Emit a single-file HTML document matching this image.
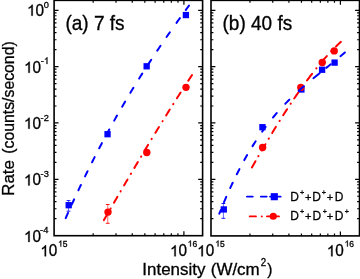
<!DOCTYPE html>
<html><head><meta charset="utf-8"><style>
html,body{margin:0;padding:0;background:#fff;}
svg{display:block;will-change:transform;}
text{font-family:"Liberation Sans",sans-serif;fill:#000;stroke:#000;stroke-width:0.3px;}
</style></head><body>
<svg width="360" height="279" viewBox="0 0 360 279">
<rect width="360" height="279" fill="#fff"/>
<rect x="54.1" y="0.35" width="148.50" height="235.35" fill="none" stroke="#000" stroke-width="1.6"/>
<path d="M54.10 10.30h4.4 M202.60 10.30h-4.4 M54.10 66.63h4.4 M202.60 66.63h-4.4 M54.10 49.67h2.4 M202.60 49.67h-2.4 M54.10 39.75h2.4 M202.60 39.75h-2.4 M54.10 32.72h2.4 M202.60 32.72h-2.4 M54.10 27.26h2.4 M202.60 27.26h-2.4 M54.10 22.80h2.4 M202.60 22.80h-2.4 M54.10 19.03h2.4 M202.60 19.03h-2.4 M54.10 15.76h2.4 M202.60 15.76h-2.4 M54.10 12.88h2.4 M202.60 12.88h-2.4 M54.10 122.96h4.4 M202.60 122.96h-4.4 M54.10 106.00h2.4 M202.60 106.00h-2.4 M54.10 96.08h2.4 M202.60 96.08h-2.4 M54.10 89.05h2.4 M202.60 89.05h-2.4 M54.10 83.59h2.4 M202.60 83.59h-2.4 M54.10 79.13h2.4 M202.60 79.13h-2.4 M54.10 75.36h2.4 M202.60 75.36h-2.4 M54.10 72.09h2.4 M202.60 72.09h-2.4 M54.10 69.21h2.4 M202.60 69.21h-2.4 M54.10 179.29h4.4 M202.60 179.29h-4.4 M54.10 162.33h2.4 M202.60 162.33h-2.4 M54.10 152.41h2.4 M202.60 152.41h-2.4 M54.10 145.38h2.4 M202.60 145.38h-2.4 M54.10 139.92h2.4 M202.60 139.92h-2.4 M54.10 135.46h2.4 M202.60 135.46h-2.4 M54.10 131.69h2.4 M202.60 131.69h-2.4 M54.10 128.42h2.4 M202.60 128.42h-2.4 M54.10 125.54h2.4 M202.60 125.54h-2.4 M54.10 218.66h2.4 M202.60 218.66h-2.4 M54.10 208.74h2.4 M202.60 208.74h-2.4 M54.10 201.71h2.4 M202.60 201.71h-2.4 M54.10 196.25h2.4 M202.60 196.25h-2.4 M54.10 191.79h2.4 M202.60 191.79h-2.4 M54.10 188.02h2.4 M202.60 188.02h-2.4 M54.10 184.75h2.4 M202.60 184.75h-2.4 M54.10 181.87h2.4 M202.60 181.87h-2.4 M93.17 235.70v-2.4 M93.17 0.35v2.4 M116.03 235.70v-2.4 M116.03 0.35v2.4 M132.25 235.70v-2.4 M132.25 0.35v2.4 M144.83 235.70v-2.4 M144.83 0.35v2.4 M155.10 235.70v-2.4 M155.10 0.35v2.4 M163.79 235.70v-2.4 M163.79 0.35v2.4 M171.32 235.70v-2.4 M171.32 0.35v2.4 M177.96 235.70v-2.4 M177.96 0.35v2.4 M183.90 235.70v-4.4 M183.90 0.35v4.4" stroke="#000" stroke-width="1.2" fill="none"/>
<rect x="211.0" y="0.35" width="148.50" height="235.55" fill="none" stroke="#000" stroke-width="1.6"/>
<path d="M211.00 10.30h4.4 M359.50 10.30h-4.4 M211.00 66.63h4.4 M359.50 66.63h-4.4 M211.00 49.67h2.4 M359.50 49.67h-2.4 M211.00 39.75h2.4 M359.50 39.75h-2.4 M211.00 32.72h2.4 M359.50 32.72h-2.4 M211.00 27.26h2.4 M359.50 27.26h-2.4 M211.00 22.80h2.4 M359.50 22.80h-2.4 M211.00 19.03h2.4 M359.50 19.03h-2.4 M211.00 15.76h2.4 M359.50 15.76h-2.4 M211.00 12.88h2.4 M359.50 12.88h-2.4 M211.00 122.96h4.4 M359.50 122.96h-4.4 M211.00 106.00h2.4 M359.50 106.00h-2.4 M211.00 96.08h2.4 M359.50 96.08h-2.4 M211.00 89.05h2.4 M359.50 89.05h-2.4 M211.00 83.59h2.4 M359.50 83.59h-2.4 M211.00 79.13h2.4 M359.50 79.13h-2.4 M211.00 75.36h2.4 M359.50 75.36h-2.4 M211.00 72.09h2.4 M359.50 72.09h-2.4 M211.00 69.21h2.4 M359.50 69.21h-2.4 M211.00 179.29h4.4 M359.50 179.29h-4.4 M211.00 162.33h2.4 M359.50 162.33h-2.4 M211.00 152.41h2.4 M359.50 152.41h-2.4 M211.00 145.38h2.4 M359.50 145.38h-2.4 M211.00 139.92h2.4 M359.50 139.92h-2.4 M211.00 135.46h2.4 M359.50 135.46h-2.4 M211.00 131.69h2.4 M359.50 131.69h-2.4 M211.00 128.42h2.4 M359.50 128.42h-2.4 M211.00 125.54h2.4 M359.50 125.54h-2.4 M211.00 218.66h2.4 M359.50 218.66h-2.4 M211.00 208.74h2.4 M359.50 208.74h-2.4 M211.00 201.71h2.4 M359.50 201.71h-2.4 M211.00 196.25h2.4 M359.50 196.25h-2.4 M211.00 191.79h2.4 M359.50 191.79h-2.4 M211.00 188.02h2.4 M359.50 188.02h-2.4 M211.00 184.75h2.4 M359.50 184.75h-2.4 M211.00 181.87h2.4 M359.50 181.87h-2.4 M249.95 235.90v-2.4 M249.95 0.35v2.4 M272.74 235.90v-2.4 M272.74 0.35v2.4 M288.91 235.90v-2.4 M288.91 0.35v2.4 M301.45 235.90v-2.4 M301.45 0.35v2.4 M311.69 235.90v-2.4 M311.69 0.35v2.4 M320.36 235.90v-2.4 M320.36 0.35v2.4 M327.86 235.90v-2.4 M327.86 0.35v2.4 M334.48 235.90v-2.4 M334.48 0.35v2.4 M340.40 235.90v-4.4 M340.40 0.35v4.4" stroke="#000" stroke-width="1.2" fill="none"/>
<path d="M68.5 200.6V211.2" stroke="#0000ff" stroke-width="0.6" fill="none"/><path d="M66.60 200.6h3.8M66.60 211.2h3.8" stroke="#0000ff" stroke-width="0.9" fill="none"/>
<path d="M107.75 204.5V223.3" stroke="#ff0000" stroke-width="0.6" fill="none"/><path d="M105.85 204.5h3.8M105.85 223.3h3.8" stroke="#ff0000" stroke-width="0.9" fill="none"/>
<path d="M223.4 203.5V218.3" stroke="#0000ff" stroke-width="0.6" fill="none"/><path d="M221.50 203.5h3.8M221.50 218.3h3.8" stroke="#0000ff" stroke-width="0.9" fill="none"/>
<rect x="65.55" y="202.05" width="6.3" height="6.3" fill="#0000ff"/>
<rect x="104.40" y="131.05" width="6.3" height="6.3" fill="#0000ff"/>
<rect x="143.50" y="63.15" width="6.3" height="6.3" fill="#0000ff"/>
<rect x="182.75" y="11.90" width="6.3" height="6.3" fill="#0000ff"/>
<rect x="220.65" y="206.30" width="6.3" height="6.3" fill="#0000ff"/>
<rect x="259.30" y="124.05" width="6.3" height="6.3" fill="#0000ff"/>
<rect x="298.25" y="86.35" width="6.3" height="6.3" fill="#0000ff"/>
<rect x="318.95" y="66.60" width="6.3" height="6.3" fill="#0000ff"/>
<rect x="331.45" y="59.45" width="6.3" height="6.3" fill="#0000ff"/>
<circle cx="108" cy="212.1" r="3.7" fill="#ff0000"/>
<circle cx="146.8" cy="152.5" r="3.7" fill="#ff0000"/>
<circle cx="186" cy="87.35" r="3.7" fill="#ff0000"/>
<circle cx="262.6" cy="147.45" r="3.7" fill="#ff0000"/>
<circle cx="300.8" cy="87.4" r="3.7" fill="#ff0000"/>
<circle cx="322.25" cy="62.5" r="3.7" fill="#ff0000"/>
<circle cx="334.2" cy="50.9" r="3.7" fill="#ff0000"/>
<path d="M103.90 220.09 L104.53 218.99 L105.16 217.90 L105.80 216.81 L106.43 215.72 L107.06 214.62 M110.49 208.70 L110.52 208.65 L110.55 208.59 L110.59 208.54 L110.62 208.49 L110.65 208.44 M113.99 202.68 L114.67 201.51 L115.35 200.33 L116.04 199.16 L116.72 197.98 L117.40 196.81 M120.57 191.38 L120.60 191.33 L120.63 191.28 L120.66 191.23 L120.69 191.18 L120.72 191.12 M124.09 185.35 L124.78 184.18 L125.47 183.00 L126.15 181.83 L126.84 180.66 L127.53 179.49 M130.81 173.90 L130.84 173.85 L130.87 173.80 L130.90 173.75 L130.93 173.70 L130.97 173.64 M134.37 167.88 L135.06 166.71 L135.75 165.54 L136.45 164.37 L137.14 163.20 L137.84 162.03 M141.02 156.68 L141.05 156.63 L141.08 156.58 L141.11 156.53 L141.14 156.48 L141.17 156.43 M144.60 150.69 L145.30 149.52 L146.00 148.36 L146.70 147.19 L147.40 146.03 L148.10 144.86 M151.57 139.12 L151.60 139.06 L151.63 139.01 L151.67 138.96 L151.70 138.91 L151.73 138.86 M155.40 132.82 L156.11 131.66 L156.82 130.50 L157.53 129.34 L158.24 128.18 L158.95 127.02 M162.48 121.28 L162.51 121.23 L162.54 121.17 L162.58 121.12 L162.61 121.07 L162.64 121.02 M166.15 115.36 L166.87 114.21 L167.59 113.05 L168.31 111.90 L169.03 110.75 L169.75 109.59 M173.17 104.17 L173.20 104.12 L173.23 104.07 L173.27 104.02 L173.30 103.97 L173.33 103.91 M176.94 98.23 L177.67 97.08 L178.40 95.94 L179.14 94.79 L179.87 93.65 L180.61 92.51 M184.21 86.94 L184.24 86.89 L184.28 86.84 L184.31 86.79 L184.34 86.74 L184.37 86.69 M188.25 80.75 L189.00 79.62 L189.75 78.48 L190.50 77.35 L191.25 76.21 L192.00 75.08" stroke="#ff0000" stroke-width="2.0" fill="none" stroke-linecap="round"/>
<path d="M251.90 167.47 L252.61 166.22 L253.32 164.97 L254.04 163.72 L254.75 162.47 L255.47 161.23 M258.33 156.27 L258.36 156.22 L258.39 156.17 L258.42 156.12 L258.45 156.06 L258.48 156.01 M261.74 150.40 L262.47 149.16 L263.20 147.91 L263.93 146.67 L264.66 145.43 L265.40 144.19 M268.65 138.73 L268.68 138.68 L268.71 138.63 L268.74 138.57 L268.78 138.52 L268.81 138.47 M272.15 132.93 L272.90 131.70 L273.65 130.47 L274.40 129.24 L275.16 128.02 L275.91 126.79 M279.56 120.94 L279.59 120.89 L279.62 120.84 L279.65 120.78 L279.69 120.73 L279.72 120.68 M283.17 115.24 L283.94 114.03 L284.72 112.81 L285.50 111.60 L286.29 110.40 L287.07 109.19 M290.64 103.78 L290.67 103.73 L290.71 103.68 L290.74 103.63 L290.77 103.58 L290.81 103.53 M294.21 98.47 L295.02 97.28 L295.84 96.10 L296.65 94.91 L297.47 93.73 L298.30 92.55 M302.03 87.27 L302.07 87.22 L302.10 87.17 L302.14 87.12 L302.17 87.07 L302.21 87.02 M306.99 80.49 L307.99 79.14 L309.00 77.80 L310.02 76.46 L311.04 75.13 L312.07 73.80 M316.32 68.44 L316.36 68.39 L316.39 68.34 L316.43 68.30 L316.47 68.25 L316.51 68.20 M322.11 61.46 L323.05 60.37 L324.00 59.28 L324.95 58.20 L325.90 57.12 L326.86 56.05 M331.18 51.38 L331.22 51.34 L331.26 51.30 L331.30 51.25 L331.35 51.21 L331.39 51.17 M336.04 46.43 L337.00 45.49 L337.97 44.56 L338.94 43.63 L339.91 42.72 L340.90 41.81" stroke="#ff0000" stroke-width="2.0" fill="none" stroke-linecap="round"/>
<path d="M65.70 218.12 L66.17 217.06 L66.64 216.00 L67.11 214.94 L67.58 213.88 L68.05 212.82 M71.71 204.69 L72.19 203.63 L72.68 202.58 L73.16 201.52 L73.64 200.47 L74.13 199.41 M78.40 190.23 L78.90 189.18 L79.39 188.13 L79.89 187.08 L80.39 186.03 L80.88 184.99 M85.03 176.38 L85.54 175.34 L86.05 174.30 L86.56 173.26 L87.07 172.22 L87.58 171.17 M92.02 162.26 L92.55 161.23 L93.07 160.19 L93.60 159.16 L94.12 158.12 L94.65 157.09 M99.20 148.27 L99.74 147.25 L100.28 146.22 L100.82 145.19 L101.36 144.17 L101.90 143.14 M106.51 134.54 L107.06 133.52 L107.61 132.50 L108.17 131.49 L108.72 130.47 L109.28 129.45 M114.18 120.63 L114.75 119.62 L115.31 118.61 L115.89 117.60 L116.46 116.59 L117.03 115.58 M122.16 106.67 L122.74 105.67 L123.33 104.67 L123.91 103.67 L124.50 102.67 L125.09 101.67 M130.38 92.80 L130.98 91.81 L131.58 90.82 L132.18 89.83 L132.79 88.83 L133.39 87.84 M139.16 78.53 L139.78 77.55 L140.39 76.56 L141.01 75.58 L141.63 74.60 L142.25 73.62 M148.07 64.57 L148.70 63.59 L149.33 62.62 L149.96 61.65 L150.60 60.68 L151.24 59.71 M157.28 50.61 L157.93 49.65 L158.58 48.69 L159.22 47.73 L159.87 46.76 L160.53 45.80 M166.56 37.01 L167.22 36.05 L167.88 35.10 L168.55 34.15 L169.21 33.20 L169.87 32.25 M176.52 22.84 L177.19 21.90 L177.87 20.95 L178.54 20.01 L179.22 19.07 L179.90 18.13 M185.75 10.06 L186.40 9.17 L187.05 8.28 L187.70 7.40 L188.35 6.51 L189.00 5.62" stroke="#0000ff" stroke-width="2.0" fill="none" stroke-linecap="round"/>
<path d="M219.30 213.71 L219.59 212.98 L219.88 212.25 L220.17 211.52 L220.47 210.79 L220.76 210.06 M223.99 202.23 L224.44 201.16 L224.90 200.09 L225.35 199.02 L225.81 197.96 L226.27 196.89 M230.24 188.00 L230.73 186.95 L231.22 185.89 L231.70 184.84 L232.20 183.79 L232.69 182.74 M236.80 174.31 L237.32 173.27 L237.85 172.24 L238.37 171.20 L238.90 170.17 L239.44 169.14 M244.29 160.11 L244.86 159.09 L245.42 158.08 L246.00 157.07 L246.57 156.06 L247.15 155.06 M252.52 146.11 L253.14 145.12 L253.76 144.14 L254.38 143.16 L255.01 142.19 L255.64 141.22 M262.19 131.60 L262.86 130.66 L263.54 129.72 L264.23 128.78 L264.92 127.85 L265.61 126.92 M272.98 117.53 L273.72 116.64 L274.47 115.75 L275.22 114.87 L275.97 113.98 L276.73 113.11 M285.29 103.74 L286.10 102.91 L286.91 102.08 L287.73 101.25 L288.54 100.43 L289.37 99.61 M298.64 90.85 L299.68 89.92 L300.73 88.99 L301.78 88.06 L302.83 87.14 L303.89 86.22 M313.41 78.21 L314.65 77.20 L315.89 76.19 L317.14 75.18 L318.38 74.18 L319.63 73.17 M326.22 67.88 L327.13 67.15 L328.03 66.42 L328.94 65.70 L329.84 64.97 L330.74 64.24 M340.46 56.23 L341.35 55.48 L342.23 54.73 L343.11 53.97 L343.99 53.22 L344.87 52.46" stroke="#0000ff" stroke-width="2.0" fill="none" stroke-linecap="round"/>
<path d="M246.9 196.6H252.8M260.8 196.6H266.7M270 196.6H280.7" stroke="#0000ff" stroke-width="1.8" fill="none" stroke-linecap="round"/>
<rect x="270.75" y="193.15" width="7.1" height="7.1" fill="#0000ff"/>
<path d="M249.7 216.4H256M261.7 216.4H261.9M266.9 216.4H279" stroke="#ff0000" stroke-width="1.8" fill="none" stroke-linecap="round"/>
<circle cx="273.25" cy="216.25" r="3.6" fill="#ff0000"/>
<path transform="translate(27.03 15.70) scale(0.01530)" d="M373 0L285 0L285-560Q253-530 201-500Q150-470 109-454L109-539Q182-573 237-623Q292-672 314-719L373-719Z" stroke="#000" stroke-width="19.6"/>
<text transform="translate(35.54 15.70) scale(1 1.02)" font-size="15.3">0</text>
<text transform="translate(43.69 7.60) scale(1 1.02)" font-size="9.3">0</text>
<path transform="translate(24.03 72.80) scale(0.01530)" d="M373 0L285 0L285-560Q253-530 201-500Q150-470 109-454L109-539Q182-573 237-623Q292-672 314-719L373-719Z" stroke="#000" stroke-width="19.6"/>
<text transform="translate(32.54 72.80) scale(1 1.02)" font-size="15.3">0</text>
<text transform="translate(40.83 64.00) scale(1 1.02)" font-size="9.3">-</text>
<path transform="translate(43.93 64.00) scale(0.00930)" d="M373 0L285 0L285-560Q253-530 201-500Q150-470 109-454L109-539Q182-573 237-623Q292-672 314-719L373-719Z" stroke="#000" stroke-width="32.3"/>
<path transform="translate(23.93 128.70) scale(0.01530)" d="M373 0L285 0L285-560Q253-530 201-500Q150-470 109-454L109-539Q182-573 237-623Q292-672 314-719L373-719Z" stroke="#000" stroke-width="19.6"/>
<text transform="translate(32.44 128.70) scale(1 1.02)" font-size="15.3">0</text>
<text transform="translate(40.60 120.70) scale(1 1.02)" font-size="9.3">-2</text>
<path transform="translate(23.93 185.40) scale(0.01530)" d="M373 0L285 0L285-560Q253-530 201-500Q150-470 109-454L109-539Q182-573 237-623Q292-672 314-719L373-719Z" stroke="#000" stroke-width="19.6"/>
<text transform="translate(32.44 185.40) scale(1 1.02)" font-size="15.3">0</text>
<text transform="translate(40.54 176.80) scale(1 1.02)" font-size="9.3">-3</text>
<path transform="translate(23.93 241.90) scale(0.01530)" d="M373 0L285 0L285-560Q253-530 201-500Q150-470 109-454L109-539Q182-573 237-623Q292-672 314-719L373-719Z" stroke="#000" stroke-width="19.6"/>
<text transform="translate(32.44 241.90) scale(1 1.02)" font-size="15.3">0</text>
<text transform="translate(40.10 233.20) scale(1 1.02)" font-size="9.3">-4</text>
<path transform="translate(40.33 256.30) scale(0.01530)" d="M373 0L285 0L285-560Q253-530 201-500Q150-470 109-454L109-539Q182-573 237-623Q292-672 314-719L373-719Z" stroke="#000" stroke-width="19.6"/>
<text transform="translate(48.84 256.30) scale(1 1.02)" font-size="15.3">0</text>
<path transform="translate(58.07 246.60) scale(0.00850)" d="M373 0L285 0L285-560Q253-530 201-500Q150-470 109-454L109-539Q182-573 237-623Q292-672 314-719L373-719Z" stroke="#000" stroke-width="35.3"/>
<text transform="translate(62.80 246.60) scale(1 1.02)" font-size="8.5">5</text>
<path transform="translate(170.03 256.30) scale(0.01530)" d="M373 0L285 0L285-560Q253-530 201-500Q150-470 109-454L109-539Q182-573 237-623Q292-672 314-719L373-719Z" stroke="#000" stroke-width="19.6"/>
<text transform="translate(178.54 256.30) scale(1 1.02)" font-size="15.3">0</text>
<path transform="translate(187.67 246.60) scale(0.00850)" d="M373 0L285 0L285-560Q253-530 201-500Q150-470 109-454L109-539Q182-573 237-623Q292-672 314-719L373-719Z" stroke="#000" stroke-width="35.3"/>
<text transform="translate(192.40 246.60) scale(1 1.02)" font-size="8.5">6</text>
<path transform="translate(197.13 256.30) scale(0.01530)" d="M373 0L285 0L285-560Q253-530 201-500Q150-470 109-454L109-539Q182-573 237-623Q292-672 314-719L373-719Z" stroke="#000" stroke-width="19.6"/>
<text transform="translate(205.64 256.30) scale(1 1.02)" font-size="15.3">0</text>
<path transform="translate(215.27 246.60) scale(0.00850)" d="M373 0L285 0L285-560Q253-530 201-500Q150-470 109-454L109-539Q182-573 237-623Q292-672 314-719L373-719Z" stroke="#000" stroke-width="35.3"/>
<text transform="translate(220.00 246.60) scale(1 1.02)" font-size="8.5">5</text>
<path transform="translate(326.83 256.30) scale(0.01530)" d="M373 0L285 0L285-560Q253-530 201-500Q150-470 109-454L109-539Q182-573 237-623Q292-672 314-719L373-719Z" stroke="#000" stroke-width="19.6"/>
<text transform="translate(335.34 256.30) scale(1 1.02)" font-size="15.3">0</text>
<path transform="translate(344.57 246.60) scale(0.00850)" d="M373 0L285 0L285-560Q253-530 201-500Q150-470 109-454L109-539Q182-573 237-623Q292-672 314-719L373-719Z" stroke="#000" stroke-width="35.3"/>
<text transform="translate(349.30 246.60) scale(1 1.02)" font-size="8.5">6</text>
<text transform="translate(142.34 275.20) scale(1.0273 1)" font-size="16.5">Intensity</text>
<text transform="translate(210.75 275.20) scale(1.0279 1)" font-size="16.5">(W/cm</text>
<text transform="translate(260.71 265.70) scale(0.9700 1)" font-size="10.0">2</text>
<text transform="translate(267.31 275.20) scale(0.9394 1)" font-size="16.5">)</text>
<text transform="translate(13.80 195.89) rotate(-90) scale(0.9884 1)" font-size="17.2">Rate</text>
<text transform="translate(13.80 153.68) rotate(-90) scale(0.9693 1)" font-size="16.3">(counts/second)</text>
<text transform="translate(65.42 30.1) scale(1 1.02)" font-size="19">(a) 7 fs</text>
<text transform="translate(222.52 30.1) scale(1 1.02)" font-size="19">(b) 40 fs</text>
<text transform="translate(290.32 201.00) scale(0.8955 1)" font-size="13.4">D</text>
<text transform="translate(299.95 194.60) scale(0.9474 1)" font-size="7.6">+</text>
<text transform="translate(304.96 200.70) scale(1.0571 1)" font-size="10.5">+</text>
<text transform="translate(312.22 201.00) scale(0.8955 1)" font-size="13.4">D</text>
<text transform="translate(321.85 194.60) scale(0.9474 1)" font-size="7.6">+</text>
<text transform="translate(326.86 200.70) scale(1.0571 1)" font-size="10.5">+</text>
<text transform="translate(334.82 201.00) scale(0.8955 1)" font-size="13.4">D</text>
<text transform="translate(290.32 220.40) scale(0.8955 1)" font-size="13.4">D</text>
<text transform="translate(299.95 213.80) scale(0.9474 1)" font-size="7.6">+</text>
<text transform="translate(304.96 219.90) scale(1.0571 1)" font-size="10.5">+</text>
<text transform="translate(312.52 220.30) scale(0.8955 1)" font-size="13.4">D</text>
<text transform="translate(322.65 213.60) scale(0.9474 1)" font-size="7.6">+</text>
<text transform="translate(326.86 219.90) scale(1.0571 1)" font-size="10.5">+</text>
<text transform="translate(334.72 220.40) scale(0.8955 1)" font-size="13.4">D</text>
<text transform="translate(344.65 213.90) scale(0.9474 1)" font-size="7.6">+</text>
</svg>
</body></html>
